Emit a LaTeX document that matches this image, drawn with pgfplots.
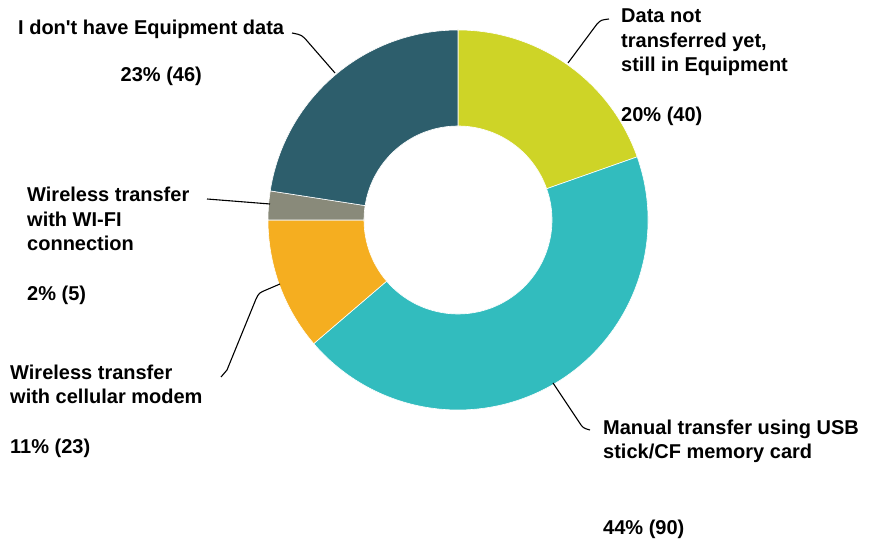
\documentclass[border=0pt]{standalone}
\usepackage{pgfplots}
\pgfplotsset{compat=1.18}
\usepackage{fontspec}
\setmainfont{Liberation Sans}
\definecolor{cA}{RGB}{206,212,39}
\definecolor{cB}{RGB}{50,188,190}
\definecolor{cC}{RGB}{245,174,32}
\definecolor{cD}{RGB}{137,138,122}
\definecolor{cE}{RGB}{45,94,108}
% data: counts for each slice (clockwise from top)
\def\vA{40}\def\vB{90}\def\vC{23}\def\vD{5}\def\vE{46}
\pgfmathsetmacro\tot{\vA+\vB+\vC+\vD+\vE}
\pgfmathsetmacro\aA{90}
\pgfmathsetmacro\aB{\aA-\vA/\tot*360}
\pgfmathsetmacro\aC{\aB-\vB/\tot*360}
\pgfmathsetmacro\aD{\aC-\vC/\tot*360}
\pgfmathsetmacro\aE{\aD-\vD/\tot*360}
\pgfmathsetmacro\aF{\aE-\vE/\tot*360}
\newcommand\donutslice[3]{%
  \fill[#3,draw=white,line width=0.6pt] (axis cs:{458+190*cos(#1)},{320+190*sin(#1)})
    arc[start angle=#1,end angle=#2,radius=190pt]
    -- (axis cs:{458+94*cos(#2)},{320+94*sin(#2)})
    arc[start angle=#2,end angle=#1,radius=94pt] -- cycle;}
\newcommand\lab[3]{\node[anchor=base west,inner sep=0pt,font=\fontsize{20}{24}\selectfont\bfseries] at (axis cs:#1,{540-#2}) {#3};}
\begin{document}%
\begin{tikzpicture}
\useasboundingbox (0,0) rectangle (873pt,540pt);
\begin{axis}[at={(0,0)},anchor=south west,x=1pt,y=1pt,xmin=0,xmax=873,ymin=0,ymax=540,hide axis,scale only axis,clip=false]
\donutslice{\aA}{\aB}{cA}
\donutslice{\aB}{\aC}{cB}
\donutslice{\aC}{\aD}{cC}
\donutslice{\aD}{\aE}{cD}
\donutslice{\aE}{\aF}{cE}
% leader lines
\draw[line width=1.1pt] (axis cs:568,477) -- (axis cs:597,516) .. controls (axis cs:601,520) .. (axis cs:609,521);
\draw[line width=1.1pt] (axis cs:335,467) -- (axis cs:308,498) .. controls (axis cs:302,505) .. (axis cs:292,507);
\draw[line width=1.1pt] (axis cs:270,336) -- (axis cs:207,341);
\draw[line width=1.1pt] (axis cs:280,256) -- (axis cs:266,250) .. controls (axis cs:259,247) .. (axis cs:256,241) -- (axis cs:227,170) -- (axis cs:221,163);
\draw[line width=1.1pt] (axis cs:553,157) -- (axis cs:579,118) .. controls (axis cs:583,112) .. (axis cs:590,110);
% labels
\lab{621}{23}{Data not}
\lab{621}{47.5}{transferred yet,}
\lab{621}{72}{still in Equipment}
\lab{621}{122}{20\% (40)}
\lab{18}{35}{I don\textquotesingle t have Equipment data}
\lab{120.5}{82}{23\% (46)}
\lab{27}{202}{Wireless transfer}
\lab{27}{226.5}{with WI-FI}
\lab{27}{251}{connection}
\lab{27}{301}{2\% (5)}
\lab{10}{380}{Wireless transfer}
\lab{10}{404}{with cellular modem}
\lab{10}{454}{11\% (23)}
\lab{603}{435}{Manual transfer using USB}
\lab{603}{459}{stick/CF memory card}
\lab{603}{535}{44\% (90)}
\end{axis}
\end{tikzpicture}%
\end{document}
